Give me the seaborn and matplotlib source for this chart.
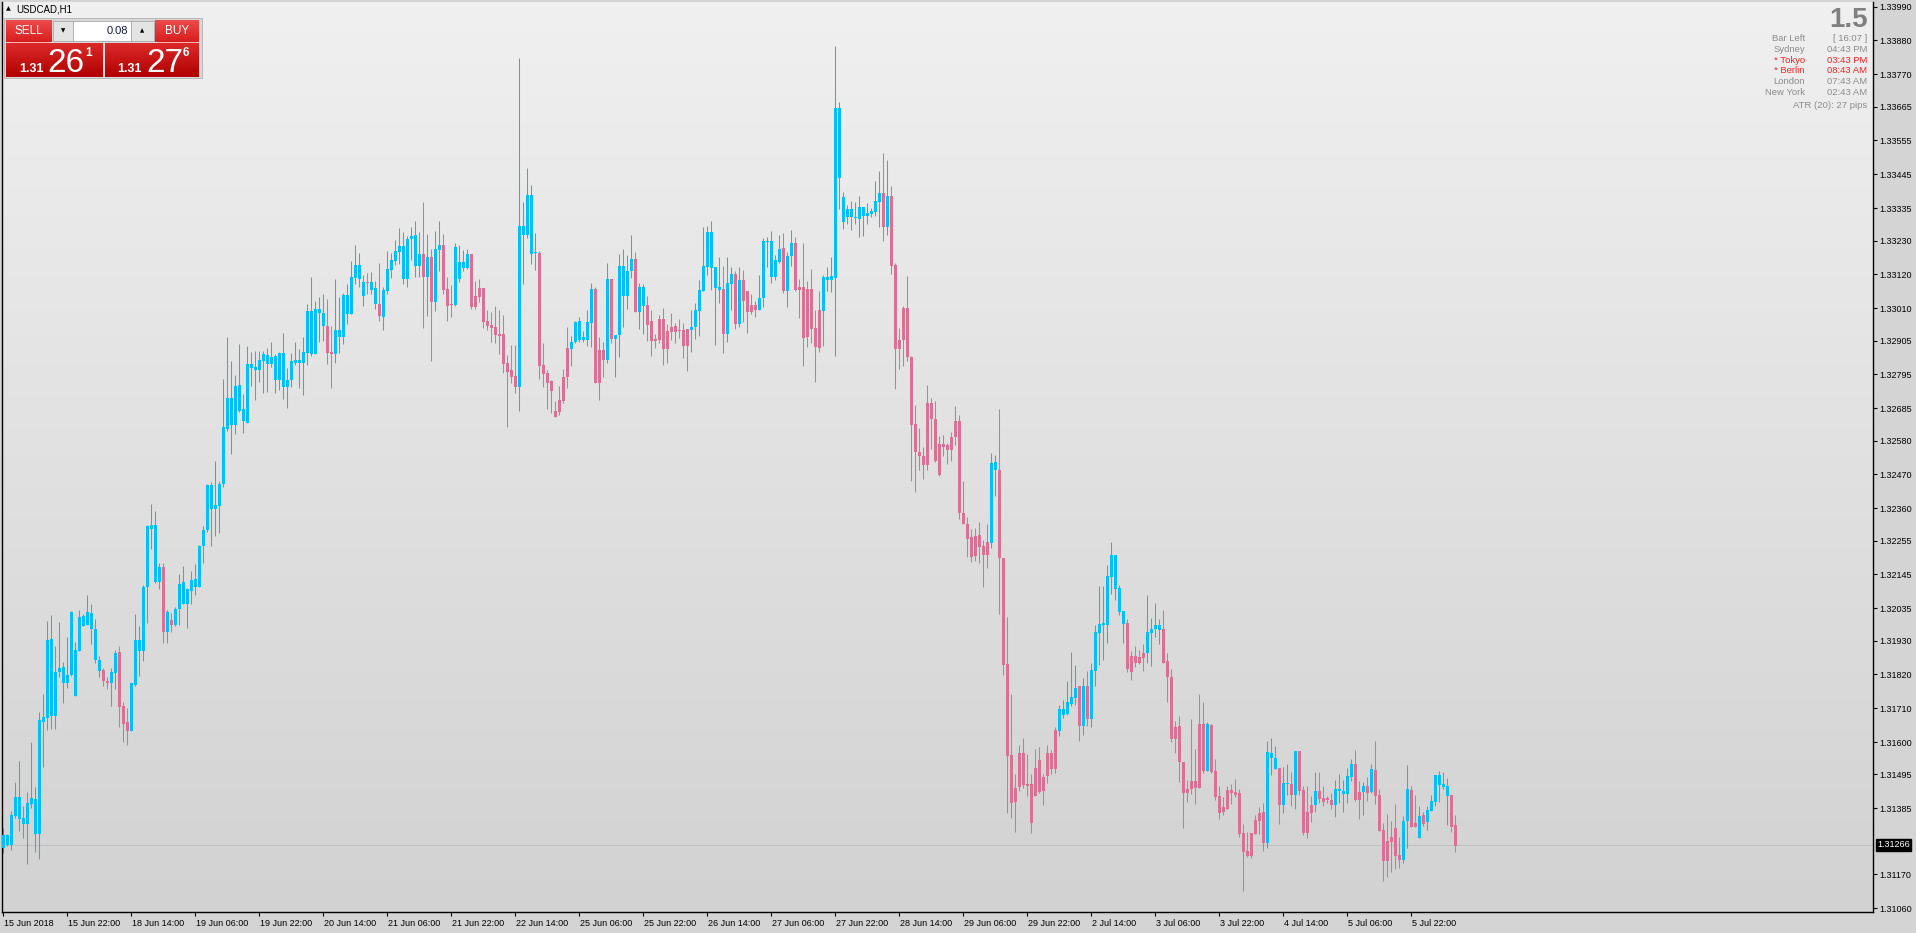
import numpy as np
import pandas as pd
import matplotlib
matplotlib.use("Agg")
import matplotlib.pyplot as plt
import matplotlib.transforms as mtransforms
from matplotlib.colors import LinearSegmentedColormap
from matplotlib.patches import Rectangle
import seaborn as sns

# USDCAD H1 candles, prices in points above 1.30000
BASE = 1.30
o_pts = [
    1255, 1266, 1266, 1360, 1350, 1334, 1334, 1399, 1302, 1302, 1667, 1678, 1686, 1686, 1827, 1792,
    1792, 1819, 1751, 1896, 1976, 1979, 1966, 1866, 1831, 1835, 1798, 1792, 1824, 1893, 1718, 1664,
    1635, 1787, 1896, 1896, 2104, 2292, 2121, 2121, 2169, 1959, 1996, 1980, 2034, 2049, 2049, 2092,
    2104, 2104, 2237, 2288, 2358, 2358, 2368, 2440, 2619, 2632, 2632, 2675, 2643, 2636, 2815, 2810,
    2810, 2839, 2828, 2828, 2778, 2778, 2755, 2755, 2777, 2832, 2832, 2832, 2864, 2861, 2861, 2996,
    2951, 2953, 2868, 2861, 2915, 2915, 2992, 2992, 3108, 3105, 3050, 3096, 3070, 3024, 3024, 2983,
    3067, 3135, 3165, 3193, 3105, 3105, 3235, 3147, 3147, 3187, 3110, 3177, 3031, 3199, 3216, 3073,
    3024, 3021, 3105, 3141, 3141, 3187, 3050, 3076, 3076, 2969, 2956, 2949, 2927, 2927, 2832, 2810,
    2790, 2755, 3248, 3248, 3187, 3190, 3190, 2826, 2800, 2772, 2676, 2712, 2786, 2881, 2878, 2901,
    2907, 2907, 2907, 2962, 3073, 2875, 2875, 2842, 3105, 2910, 2923, 3050, 3050, 3131, 3170, 2998,
    3018, 3021, 2969, 2910, 2975, 2975, 2936, 2949, 2953, 2940, 2940, 2943, 2940, 2949, 3001, 3066,
    3144, 3141, 3076, 3070, 3073, 2927, 3090, 3120, 2958, 3102, 3065, 3020, 3020, 3003, 3044, 3224,
    3112, 3112, 3159, 3206, 3065, 3179, 3221, 3079, 3079, 3072, 3072, 2946, 3003, 3000, 3103, 3103,
    3108, 3432, 3291, 3305, 3305, 3302, 3299, 3308, 3308, 3317, 3323, 3354, 3385, 3274, 3374, 3150,
    2908, 3011, 3011, 2851, 2634, 2543, 2531, 2702, 2702, 2651, 2568, 2568, 2565, 2590, 2642, 2642,
    2345, 2310, 2265, 2270, 2273, 2236, 2250, 2248, 2483, 2483, 2198, 1854, 1559, 1451, 1565, 1565,
    1463, 1463, 1516, 1542, 1486, 1565, 1565, 1640, 1637, 1687, 1690, 1725, 1743, 1781, 1652, 1781,
    1675, 1832, 1956, 1981, 1981, 2138, 2099, 2024, 1984, 1987, 1880, 1880, 1877, 1890, 1888, 1956,
    1968, 1965, 1968, 1864, 1813, 1649, 1653, 1537, 1448, 1474, 1474, 1659, 1659, 1507, 1656, 1507,
    1425, 1389, 1445, 1445, 1439, 1436, 1306, 1247, 1306, 1347, 1371, 1373, 1273, 1549, 1514, 1517,
    1396, 1465, 1465, 1428, 1571, 1445, 1373, 1396, 1395, 1441, 1420, 1420, 1412, 1396, 1442, 1431,
    1431, 1488, 1528, 1439, 1439, 1458, 1439, 1510, 1428, 1315, 1279, 1293, 1320, 1233, 1217, 1344,
    1445, 1338, 1290, 1363, 1342, 1377, 1407, 1461, 1453, 1426, 1428, 1331,
]
h_pts = [
    1322, 1302, 1376, 1471, 1539, 1393, 1438, 1600, 1453, 1697, 1758, 1993, 2012, 1911, 1990, 1860,
    1940, 2027, 1925, 2028, 2017, 2078, 2049, 1999, 1879, 1841, 1812, 1841, 1900, 1911, 1732, 1711,
    1792, 2017, 1976, 2110, 2307, 2374, 2352, 2182, 2182, 2030, 2020, 2038, 2146, 2172, 2102, 2156,
    2179, 2242, 2302, 2440, 2446, 2513, 2448, 2781, 2916, 2839, 2793, 2894, 2731, 2887, 2868, 2871,
    2871, 2871, 2880, 2900, 2861, 2868, 2929, 2815, 2865, 2900, 2876, 2915, 3024, 3112, 3035, 3047,
    3057, 3040, 2953, 3105, 3047, 3061, 3089, 3163, 3214, 3188, 3118, 3125, 3127, 3098, 3158, 3079,
    3197, 3191, 3232, 3272, 3258, 3245, 3274, 3294, 3258, 3355, 3252, 3203, 3261, 3294, 3252, 3112,
    3086, 3222, 3216, 3200, 3203, 3187, 3099, 3105, 3076, 3005, 2998, 3018, 3005, 2988, 2858, 2891,
    2891, 3822, 3355, 3466, 3411, 3255, 3196, 2897, 2810, 2778, 2709, 2758, 2813, 2949, 2920, 2969,
    2982, 2936, 3005, 3092, 3079, 2917, 2901, 3157, 3105, 2923, 3187, 3203, 3183, 3248, 3193, 3092,
    3089, 3050, 3005, 2927, 2988, 3011, 2959, 2995, 2962, 2975, 2962, 2943, 3005, 3027, 3102, 3274,
    3277, 3294, 3144, 3177, 3147, 3177, 3144, 3131, 3144, 3134, 3065, 3056, 3034, 3118, 3238, 3241,
    3261, 3184, 3247, 3255, 3194, 3264, 3241, 3105, 3221, 3097, 3137, 3003, 3065, 3118, 3144, 3176,
    3862, 3680, 3388, 3344, 3357, 3354, 3374, 3339, 3351, 3335, 3423, 3456, 3515, 3492, 3406, 3158,
    2946, 3017, 3114, 2855, 2695, 2621, 2560, 2760, 2717, 2708, 2595, 2598, 2572, 2608, 2693, 2663,
    2448, 2332, 2294, 2295, 2314, 2258, 2309, 2539, 2533, 2681, 2198, 2008, 1758, 1498, 1590, 1615,
    1560, 1496, 1577, 1584, 1496, 1592, 1574, 1649, 1720, 1737, 1799, 1894, 1849, 1781, 1808, 1831,
    1856, 1980, 2108, 2108, 2176, 2250, 2208, 2111, 2026, 2000, 1896, 1913, 1899, 1919, 2078, 2004,
    2052, 1999, 2030, 1890, 1838, 1669, 1685, 1537, 1477, 1675, 1579, 1757, 1729, 1667, 1659, 1545,
    1458, 1423, 1458, 1463, 1480, 1448, 1334, 1307, 1306, 1363, 1389, 1402, 1605, 1614, 1588, 1517,
    1519, 1528, 1502, 1571, 1571, 1459, 1459, 1425, 1503, 1503, 1458, 1425, 1436, 1477, 1497, 1477,
    1516, 1545, 1575, 1474, 1472, 1488, 1529, 1605, 1447, 1338, 1367, 1344, 1399, 1293, 1360, 1526,
    1459, 1428, 1394, 1374, 1393, 1428, 1493, 1506, 1504, 1485, 1428, 1363,
]
l_pts = [
    1241, 1263, 1250, 1355, 1312, 1290, 1205, 1387, 1243, 1220, 1518, 1638, 1642, 1642, 1813, 1726,
    1777, 1816, 1751, 1896, 1976, 1979, 1918, 1856, 1813, 1783, 1773, 1718, 1773, 1649, 1602, 1592,
    1635, 1784, 1816, 1864, 1988, 2227, 2117, 2098, 1922, 1921, 1959, 1976, 1979, 2049, 1972, 2049,
    2078, 2104, 2183, 2284, 2237, 2271, 2281, 2429, 2612, 2535, 2600, 2672, 2603, 2636, 2757, 2712,
    2771, 2733, 2738, 2820, 2735, 2745, 2716, 2687, 2755, 2825, 2752, 2728, 2825, 2854, 2861, 2900,
    2902, 2829, 2752, 2832, 2865, 2894, 2960, 2992, 3090, 3079, 3018, 3057, 3057, 3009, 2969, 2939,
    3057, 3109, 3151, 3154, 3089, 3080, 3167, 3110, 3113, 2947, 2985, 2837, 3002, 3132, 3057, 2969,
    2982, 3018, 3095, 3132, 3138, 3006, 3006, 3031, 2947, 2939, 2901, 2897, 2862, 2801, 2625, 2768,
    2733, 2677, 3089, 3239, 3154, 3135, 2781, 2755, 2681, 2671, 2658, 2664, 2703, 2752, 2823, 2897,
    2901, 2901, 2888, 2884, 2768, 2713, 2785, 2832, 2897, 2785, 2852, 2949, 3008, 3109, 2998, 2943,
    2927, 2904, 2855, 2881, 2897, 2826, 2832, 2907, 2897, 2914, 2849, 2806, 2868, 2910, 2920, 3066,
    3118, 3070, 2891, 3027, 2865, 2901, 3003, 2943, 2949, 2966, 2928, 2991, 2981, 3003, 3013, 3144,
    3093, 3102, 3156, 3061, 3013, 3147, 3065, 2978, 2822, 2885, 2896, 2770, 2867, 2888, 3065, 3064,
    2855, 3332, 3268, 3282, 3264, 3282, 3243, 3246, 3282, 3305, 3309, 3274, 3230, 3247, 3120, 2746,
    2814, 2822, 2840, 2447, 2413, 2483, 2456, 2483, 2553, 2510, 2466, 2530, 2503, 2515, 2566, 2324,
    2310, 2203, 2186, 2189, 2183, 2105, 2167, 2232, 2401, 2015, 1819, 1369, 1353, 1309, 1441, 1451,
    1425, 1304, 1425, 1436, 1395, 1466, 1497, 1501, 1619, 1680, 1687, 1717, 1720, 1604, 1622, 1652,
    1650, 1783, 1851, 1867, 1923, 2082, 2062, 2013, 1923, 1828, 1802, 1845, 1853, 1832, 1858, 1848,
    1940, 1919, 1858, 1732, 1602, 1566, 1472, 1322, 1407, 1432, 1400, 1452, 1501, 1506, 1501, 1412,
    1349, 1363, 1384, 1399, 1423, 1291, 1117, 1226, 1225, 1302, 1302, 1246, 1257, 1493, 1514, 1334,
    1371, 1428, 1393, 1384, 1428, 1298, 1290, 1341, 1373, 1401, 1393, 1403, 1382, 1358, 1401, 1373,
    1401, 1475, 1409, 1349, 1363, 1410, 1436, 1400, 1312, 1150, 1163, 1179, 1188, 1192, 1206, 1255,
    1323, 1323, 1290, 1328, 1315, 1377, 1394, 1407, 1449, 1331, 1309, 1244,
]
c_pts = [
    1298, 1298, 1363, 1422, 1422, 1355, 1402, 1418, 1415, 1672, 1681, 1932, 1935, 1827, 1841, 1843,
    1819, 2022, 1899, 2008, 2009, 2022, 2020, 1966, 1867, 1798, 1792, 1827, 1889, 1715, 1660, 1635,
    1792, 1932, 1932, 2104, 2301, 2305, 2305, 2169, 1959, 2022, 1980, 2034, 2114, 2121, 2098, 2127,
    2131, 2237, 2288, 2436, 2436, 2371, 2440, 2625, 2719, 2719, 2758, 2761, 2683, 2828, 2828, 2818,
    2842, 2861, 2857, 2851, 2854, 2864, 2864, 2777, 2839, 2842, 2842, 2868, 3002, 3002, 3008, 3008,
    2995, 2865, 2861, 2938, 2938, 3053, 3053, 3112, 3151, 3151, 3096, 3092, 3094, 3076, 2986, 3070,
    3138, 3167, 3196, 3213, 3213, 3235, 3245, 3248, 3187, 3110, 3177, 3031, 3203, 3216, 3070, 3018,
    3021, 3209, 3161, 3161, 3187, 3014, 3014, 3047, 2966, 2953, 2946, 2923, 2920, 2829, 2804, 2788,
    2755, 3277, 3277, 3378, 3378, 3193, 2823, 2797, 2768, 2742, 2658, 2674, 2707, 2785, 2901, 2966,
    2969, 2917, 2966, 3073, 2768, 2768, 2842, 3105, 2910, 2923, 3147, 3147, 3131, 3170, 2998, 3079,
    3079, 2956, 2904, 2904, 2907, 2878, 2878, 2933, 2933, 2936, 2888, 2888, 2949, 3005, 3070, 3147,
    3258, 3258, 3144, 3079, 2927, 3092, 3120, 2958, 3102, 3034, 2999, 2999, 3003, 3044, 3229, 3229,
    3229, 3167, 3202, 3065, 3179, 3221, 3070, 3070, 2913, 2916, 2943, 2884, 2881, 3111, 3111, 3114,
    3660, 3660, 3371, 3332, 3332, 3305, 3339, 3339, 3320, 3327, 3357, 3385, 3274, 3374, 3147, 2878,
    2878, 2908, 2851, 2631, 2543, 2531, 2500, 2500, 2651, 2515, 2469, 2560, 2548, 2548, 2590, 2345,
    2310, 2261, 2203, 2206, 2235, 2208, 2209, 2506, 2510, 2198, 1849, 1554, 1403, 1406, 1453, 1460,
    1459, 1338, 1425, 1437, 1441, 1489, 1512, 1512, 1707, 1708, 1731, 1748, 1776, 1652, 1781, 1675,
    1835, 1957, 1983, 1987, 2140, 2208, 2208, 2101, 2026, 1838, 1828, 1858, 1856, 1874, 1958, 1968,
    1980, 1980, 1858, 1813, 1611, 1611, 1537, 1436, 1436, 1448, 1452, 1452, 1507, 1659, 1504, 1423,
    1371, 1374, 1384, 1436, 1428, 1302, 1243, 1230, 1230, 1302, 1345, 1273, 1568, 1565, 1549, 1396,
    1466, 1467, 1428, 1571, 1442, 1304, 1304, 1371, 1441, 1414, 1406, 1412, 1396, 1447, 1449, 1441,
    1490, 1528, 1412, 1412, 1458, 1436, 1513, 1425, 1312, 1215, 1215, 1277, 1230, 1217, 1344, 1448,
    1323, 1323, 1360, 1334, 1380, 1409, 1493, 1493, 1464, 1459, 1325, 1264,
]

x_labels = ["15 Jun 2018", "15 Jun 22:00", "18 Jun 14:00", "19 Jun 06:00", "19 Jun 22:00",
            "20 Jun 14:00", "21 Jun 06:00", "21 Jun 22:00", "22 Jun 14:00", "25 Jun 06:00",
            "25 Jun 22:00", "26 Jun 14:00", "27 Jun 06:00", "27 Jun 22:00", "28 Jun 14:00",
            "29 Jun 06:00", "29 Jun 22:00", "2 Jul 14:00", "3 Jul 06:00", "3 Jul 22:00",
            "4 Jul 14:00", "5 Jul 06:00", "5 Jul 22:00"]
y_ticks = [1.33990, 1.33880, 1.33770, 1.33665, 1.33555, 1.33445, 1.33335, 1.33230, 1.33120,
           1.33010, 1.32905, 1.32795, 1.32685, 1.32580, 1.32470, 1.32360, 1.32255, 1.32145,
           1.32035, 1.31930, 1.31820, 1.31710, 1.31600, 1.31495, 1.31385, 1.31170, 1.31060]
bid = 1.31266

df = pd.DataFrame({"open": o_pts, "high": h_pts, "low": l_pts, "close": c_pts}) / 1e5 + BASE
df["bar"] = np.arange(len(df))
df["up"] = df["close"] >= df["open"]

sns.set_theme(style="white")
plt.rcParams["font.family"] = ["Liberation Sans", "DejaVu Sans"]

UP, DOWN = "#00BFFF", "#DB7093"
W, H = 1916, 933
fig = plt.figure(figsize=(W / 100, H / 100), dpi=100)
fig.patch.set_facecolor("#D4D4D4")


def px_axes(x0, y0, x1, y1):
    # pixel box with top-left origin -> figure axes
    return fig.add_axes([x0 / W, 1 - y1 / H, (x1 - x0) / W, (y1 - y0) / H])


ax = px_axes(2, 2, 1873, 912)
x_lo, x_hi = (2 - 3.5) / 4, (1873 - 3.5) / 4
y_lo, y_hi = 1.31048, 1.34005
ax.set_xlim(x_lo, x_hi)
ax.set_ylim(y_lo, y_hi)

bg = LinearSegmentedColormap.from_list("bg", ["#F0F0F0", "#D2D2D2"])
ax.imshow(np.linspace(0, 1, 256).reshape(-1, 1), cmap=bg, aspect="auto",
          extent=(x_lo, x_hi, y_lo, y_hi), zorder=0)

colors = np.where(df["up"], UP, DOWN)
px = (y_hi - y_lo) / 910
ax.vlines(df["bar"], df["low"], df["high"], colors=colors, linewidth=0.75, zorder=2)
body_lo = df[["open", "close"]].min(axis=1)
body_h = (df["close"] - df["open"]).abs().clip(lower=px)
ax.bar(df["bar"], body_h, bottom=body_lo, width=0.75, color=colors, linewidth=0, zorder=3)

ax.axhline(bid, color="#C0C0C0", linewidth=0.8, zorder=1)

for side in ["left", "bottom", "right"]:
    ax.spines[side].set_color("black")
    ax.spines[side].set_linewidth(1.0)
ax.spines["top"].set_visible(False)

ax.yaxis.tick_right()
ax.set_yticks(y_ticks)
ax.set_yticklabels([f"{v:.5f}" for v in y_ticks])
ax.set_xticks(np.arange(len(x_labels)) * 16)
ax.set_xticklabels(x_labels, ha="left")
ax.tick_params(axis="y", which="both", right=True, left=False, direction="out", length=3,
               width=0.8, pad=1.5, labelsize=6.5, colors="black")
ax.tick_params(axis="x", which="both", bottom=True, direction="out", length=3, width=0.8,
               pad=2, labelsize=6.5, colors="black")
offset = mtransforms.ScaledTranslation(1 / 100, 0, fig.dpi_scale_trans)
for lab in ax.get_xticklabels():
    lab.set_transform(lab.get_transform() + offset)
ax.grid(False)

ax.annotate(f"{bid:.5f}", xy=(1.0, bid), xycoords=("axes fraction", "data"),
            xytext=(3, 0), textcoords="offset points", ha="left", va="center",
            fontsize=6.5, color="white",
            bbox=dict(boxstyle="square,pad=0.15", fc="black", ec="black"), zorder=5)

# overlay in pixel coordinates for the trading panel and the info block
ov = fig.add_axes([0, 0, 1, 1], zorder=10)
ov.set_xlim(0, W)
ov.set_ylim(H, 0)
ov.axis("off")
ov.patch.set_alpha(0)


def grad_box(x0, y0, x1, y1, c_top, c_bot):
    cm = LinearSegmentedColormap.from_list("g", [c_top, c_bot])
    ov.imshow(np.linspace(0, 1, 64).reshape(-1, 1), cmap=cm, aspect="auto",
              extent=(x0, x1, y1, y0), zorder=11)


ov.text(6, 9, "\u25b2", fontsize=4.5, color="black", va="center", ha="left",
        family="DejaVu Sans")
ov.text(16, 9, "USDCAD,H1", fontsize=7, color="black", va="center", ha="left")

ov.add_patch(Rectangle((4, 18), 198, 60, fc="#D8D8D8", ec="#B0B0B0", lw=0.6, zorder=10))
grad_box(6, 20, 52, 42, "#EE4A4A", "#D81E1E")
grad_box(155, 20, 199, 42, "#EE4A4A", "#D81E1E")
grad_box(6, 43, 103, 77, "#DC2A2A", "#B00000")
grad_box(105, 43, 199, 77, "#DC2A2A", "#B00000")
ov.plot([10, 48], [41.5, 41.5], color="#F6B0B0", lw=0.7, zorder=12)
ov.plot([158, 196], [41.5, 41.5], color="#F6B0B0", lw=0.7, zorder=12)
ov.add_patch(Rectangle((53, 21), 20, 20, fc="#E4E4E4", ec="#A8A8A8", lw=0.6, zorder=11))
ov.add_patch(Rectangle((73, 21), 58, 20, fc="white", ec="#A8A8A8", lw=0.6, zorder=11))
ov.add_patch(Rectangle((131, 21), 23, 20, fc="#E4E4E4", ec="#A8A8A8", lw=0.6, zorder=11))
ov.text(63, 31, "\u25bc", fontsize=4, color="black", ha="center", va="center",
        family="DejaVu Sans", zorder=12)
ov.text(142.5, 31, "\u25b2", fontsize=4, color="black", ha="center", va="center",
        family="DejaVu Sans", zorder=12)
ov.text(128, 31, "0.08", fontsize=8, color="#101840", ha="right", va="center", zorder=12)
ov.text(29, 31, "SELL", fontsize=8.5, color="white", ha="center", va="center", zorder=12)
ov.text(177, 31, "BUY", fontsize=8.5, color="white", ha="center", va="center", zorder=12)
for x_small, x_big, x_sup, big, sup in [(19, 47, 85, "26", "1"), (117, 146, 183, "27", "6")]:
    ov.text(x_small, 71.5, "1.31", fontsize=9, color="white", ha="left", va="baseline",
            weight="bold", zorder=12)
    ov.text(x_big, 71.5, big, fontsize=24, color="white", ha="left", va="baseline", zorder=12)
    ov.text(x_sup, 55.5, sup, fontsize=8.5, color="white", ha="left", va="baseline",
            weight="bold", zorder=12)

grey, red = "#8C8C8C", "#FF2222"
ov.text(1868, 20, "1.5", fontsize=20, color="#808080", weight="bold", ha="right",
        va="center", zorder=12)
info = [("Bar Left", "[ 16:07 ]", grey), ("Sydney", "04:43 PM", grey),
        ("* Tokyo", "03:43 PM", red), ("* Berlin", "08:43 AM", red),
        ("London", "07:43 AM", grey), ("New York", "02:43 AM", grey)]
for k, (name, val, col) in enumerate(info):
    yy = 38.5 + k * 10.8
    ov.text(1805, yy, name, fontsize=6.8, color=col, ha="right", va="center", zorder=12)
    ov.text(1867, yy, val, fontsize=6.8, color=col, ha="right", va="center", zorder=12)
ov.text(1867, 105, "ATR (20): 27 pips", fontsize=6.8, color=grey, ha="right", va="center",
        zorder=12)

fig.savefig("out.png", dpi=100, facecolor=fig.get_facecolor())
